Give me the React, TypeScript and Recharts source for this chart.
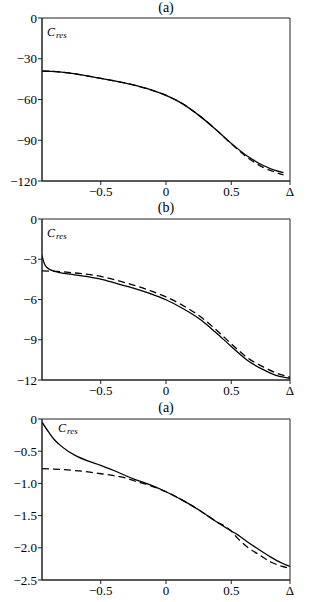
import React from "react";
import { LineChart, Line, XAxis, YAxis, ReferenceArea } from "recharts";

// ---- data (Δ, C_res) ----
const D1_SOLID = [-0.95, -0.875, -0.75, -0.625, -0.5, -0.375, -0.25, -0.125, 0, 0.125, 0.25, 0.375, 0.5, 0.625, 0.75, 0.83, 0.9];
const C1_SOLID = [-39.1, -39.3, -40.4, -42.2, -44.5, -46.6, -49.3, -52.6, -57, -63, -71.5, -81.5, -92.3, -101.8, -108.8, -112, -113.8];
const D1_DASH = [-0.95, -0.875, -0.75, -0.625, -0.5, -0.375, -0.25, -0.125, 0, 0.125, 0.25, 0.375, 0.5, 0.625, 0.75, 0.83, 0.9];
const C1_DASH = [-39.1, -39.3, -40.4, -42.2, -44.5, -46.6, -49.3, -52.6, -57, -63, -71.5, -81.5, -92.6, -102.8, -110.2, -113.3, -115.5];

const D2_SOLID = [-0.95, -0.94, -0.926, -0.9, -0.87, -0.825, -0.72, -0.6, -0.5, -0.375, -0.25, -0.125, 0, 0.125, 0.25, 0.375, 0.5, 0.625, 0.75, 0.85, 0.95];
const C2_SOLID = [-2.7, -3.1, -3.45, -3.7, -3.85, -3.97, -4.13, -4.3, -4.48, -4.82, -5.15, -5.55, -6.02, -6.65, -7.4, -8.4, -9.5, -10.55, -11.25, -11.68, -11.87];
const D2_DASH = [-0.95, -0.8, -0.72, -0.6, -0.5, -0.375, -0.25, -0.125, 0, 0.125, 0.25, 0.375, 0.5, 0.625, 0.75, 0.85, 0.95];
const C2_DASH = [-3.86, -3.93, -4.0, -4.12, -4.28, -4.58, -4.92, -5.33, -5.8, -6.42, -7.18, -8.18, -9.3, -10.35, -11.05, -11.5, -11.78];

const D3_SOLID = [-0.95, -0.9, -0.86, -0.82, -0.75, -0.7, -0.6, -0.5, -0.4, -0.25, -0.125, 0, 0.125, 0.25, 0.375, 0.5, 0.55, 0.625, 0.714, 0.8, 0.89, 0.95];
const C3_SOLID = [-0.05, -0.2, -0.31, -0.39, -0.5, -0.56, -0.65, -0.72, -0.8, -0.93, -1.02, -1.13, -1.26, -1.41, -1.58, -1.74, -1.8, -1.91, -2.03, -2.14, -2.24, -2.29];
const D3_DASH = [-0.95, -0.8, -0.7, -0.6, -0.5, -0.4, -0.3, -0.25, -0.125, 0, 0.125, 0.25, 0.375, 0.5, 0.548, 0.625, 0.714, 0.803, 0.891, 0.95];
const C3_DASH = [-0.77, -0.785, -0.8, -0.82, -0.85, -0.88, -0.92, -0.955, -1.03, -1.13, -1.26, -1.41, -1.58, -1.74, -1.85, -1.99, -2.11, -2.22, -2.29, -2.32];

// ---- axes / labels ----
const X_MIN = -0.95;
const X_MAX = 0.95;
const X_TICKS = [-0.5, 0, 0.5, 0.95];
const X_LABELS = ["\u22120.5", "0", "0.5", "\u0394"];

const Y1_TICKS = [-120, -90, -60, -30, 0];
const Y1_LABELS = ["\u2212120", "\u221290", "\u221260", "\u221230", "0"];
const Y2_TICKS = [-12, -9, -6, -3, 0];
const Y2_LABELS = ["\u221212", "\u22129", "\u22126", "\u22123", "0"];
const Y3_TICKS = [-2.5, -2, -1.5, -1, -0.5, 0];
const Y3_LABELS = ["\u22122.5", "\u22122.0", "\u22121.5", "\u22121.0", "\u22120.5", "0"];

const pts = (xs: number[], ys: number[]) => xs.map((d, i) => ({ d, c: ys[i] }));

const FONT = "'Liberation Serif', serif";
const AXIS = "#222";

const xLabel = (v: number) => X_LABELS[X_TICKS.indexOf(v)];

const titleStyle: React.CSSProperties = {
  position: "absolute",
  left: 126,
  width: 80,
  textAlign: "center",
  fontSize: 14,
  lineHeight: "14px",
  fontFamily: FONT,
};

const cresStyle: React.CSSProperties = {
  position: "absolute",
  fontSize: 12,
  lineHeight: "12px",
  fontFamily: FONT,
  fontStyle: "italic",
  whiteSpace: "nowrap",
};

const Cres = ({ left, top }: { left: number; top: number }) => (
  <div style={{ ...cresStyle, left, top }}>
    C<span style={{ fontSize: 9, position: "relative", top: 2, marginLeft: 1 }}>res</span>
  </div>
);

export default function App() {
  return (
    <div style={{ position: "absolute", left: 0, top: 0, width: 324, height: 602, background: "#fff" }}>
      {/* panel (a) */}
      <div style={{ position: "absolute", left: 0, top: 0, width: 324, height: 201 }}>
        <LineChart width={324} height={201} margin={{ top: 18, right: 34, bottom: 0, left: 0 }}>
          <XAxis dataKey="d" type="number" domain={[X_MIN, X_MAX]} allowDataOverflow ticks={X_TICKS} height={20}
            tickSize={4} tickMargin={2} stroke={AXIS} tickFormatter={xLabel}
            tick={{ fontSize: 13, fill: "#000", fontFamily: FONT }} />
          <YAxis type="number" domain={[-120, 0]} allowDataOverflow ticks={Y1_TICKS} width={42}
            tickSize={4} tickMargin={1} stroke={AXIS} tickFormatter={(v: number) => Y1_LABELS[Y1_TICKS.indexOf(v)]}
            tick={{ fontSize: 13, fill: "#000", fontFamily: FONT }} />
          <ReferenceArea x1={X_MIN} x2={X_MAX} y1={-120} y2={0} fill="none" stroke={AXIS} strokeWidth={1} />
          <Line data={pts(D1_DASH, C1_DASH)} dataKey="c" type="monotone" stroke="#000" strokeWidth={1.3}
            strokeDasharray="7 4" dot={false} isAnimationActive={false} />
          <Line data={pts(D1_SOLID, C1_SOLID)} dataKey="c" type="monotone" stroke="#000" strokeWidth={1.3}
            dot={false} isAnimationActive={false} />
        </LineChart>
        <div style={{ ...titleStyle, top: 1 }}>(a)</div>
        <Cres left={47} top={26} />
      </div>

      {/* panel (b) */}
      <div style={{ position: "absolute", left: 0, top: 200, width: 324, height: 200 }}>
        <LineChart width={324} height={200} margin={{ top: 19, right: 34, bottom: 0, left: 0 }}>
          <XAxis dataKey="d" type="number" domain={[X_MIN, X_MAX]} allowDataOverflow ticks={X_TICKS} height={20}
            tickSize={4} tickMargin={2} stroke={AXIS} tickFormatter={xLabel}
            tick={{ fontSize: 13, fill: "#000", fontFamily: FONT }} />
          <YAxis type="number" domain={[-12, 0]} allowDataOverflow ticks={Y2_TICKS} width={42}
            tickSize={4} tickMargin={1} stroke={AXIS} tickFormatter={(v: number) => Y2_LABELS[Y2_TICKS.indexOf(v)]}
            tick={{ fontSize: 13, fill: "#000", fontFamily: FONT }} />
          <ReferenceArea x1={X_MIN} x2={X_MAX} y1={-12} y2={0} fill="none" stroke={AXIS} strokeWidth={1} />
          <Line data={pts(D2_DASH, C2_DASH)} dataKey="c" type="monotone" stroke="#000" strokeWidth={1.3}
            strokeDasharray="7 4" dot={false} isAnimationActive={false} />
          <Line data={pts(D2_SOLID, C2_SOLID)} dataKey="c" type="monotone" stroke="#000" strokeWidth={1.3}
            dot={false} isAnimationActive={false} />
        </LineChart>
        <div style={{ ...titleStyle, top: 1 }}>(b)</div>
        <Cres left={47} top={27} />
      </div>

      {/* panel (a), lower */}
      <div style={{ position: "absolute", left: 0, top: 400, width: 324, height: 200 }}>
        <LineChart width={324} height={200} margin={{ top: 19, right: 34, bottom: 0, left: 0 }}>
          <XAxis dataKey="d" type="number" domain={[X_MIN, X_MAX]} allowDataOverflow ticks={X_TICKS} height={20}
            tickSize={4} tickMargin={2} stroke={AXIS} tickFormatter={xLabel}
            tick={{ fontSize: 13, fill: "#000", fontFamily: FONT }} />
          <YAxis type="number" domain={[-2.5, 0]} allowDataOverflow ticks={Y3_TICKS} width={42}
            tickSize={4} tickMargin={1} stroke={AXIS} tickFormatter={(v: number) => Y3_LABELS[Y3_TICKS.indexOf(v)]}
            tick={{ fontSize: 13, fill: "#000", fontFamily: FONT }} />
          <ReferenceArea x1={X_MIN} x2={X_MAX} y1={-2.5} y2={0} fill="none" stroke={AXIS} strokeWidth={1} />
          <Line data={pts(D3_DASH, C3_DASH)} dataKey="c" type="monotone" stroke="#000" strokeWidth={1.3}
            strokeDasharray="7 4" dot={false} isAnimationActive={false} />
          <Line data={pts(D3_SOLID, C3_SOLID)} dataKey="c" type="monotone" stroke="#000" strokeWidth={1.3}
            dot={false} isAnimationActive={false} />
        </LineChart>
        <div style={{ ...titleStyle, top: 1 }}>(a)</div>
        <Cres left={58} top={22} />
      </div>
    </div>
  );
}
